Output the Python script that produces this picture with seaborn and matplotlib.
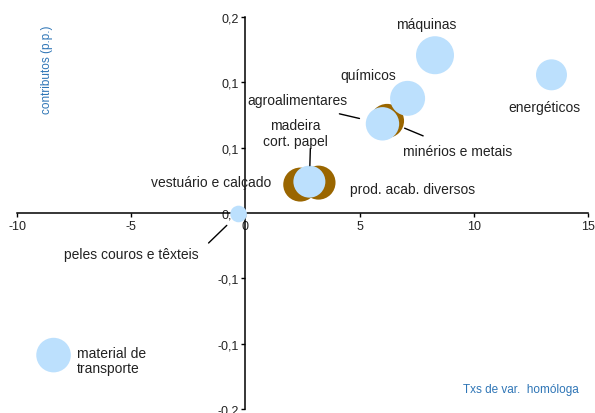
import numpy as np
import pandas as pd
import seaborn as sns
import matplotlib.pyplot as plt

# bubbles drawn in light blue
cats_azul = ['máquinas', 'energéticos', 'químicos', 'agroalimentares',
             'madeira\ncort. papel', 'peles couros e têxteis', 'material de\ntransporte']
x_azul = [8.3, 13.4, 7.1, 6.0, 2.8, -0.3, -8.4]
y_azul = [0.161, 0.141, 0.117, 0.091, 0.032, -0.001, -0.145]
peso_azul = [361, 240, 306, 279, 256, 69, 299]

# bubbles drawn in brown
cats_castanho = ['minérios e metais', 'vestuário e calçado', 'prod. acab. diversos']
x_castanho = [6.2, 2.4, 3.2]
y_castanho = [0.094, 0.029, 0.031]
peso_castanho = [289, 289, 289]

y_ticks = np.linspace(-0.2, 0.2, 7)
x_ticks = [-10, -5, 0, 5, 10, 15]

# label offsets (points) relative to the bubble, and alignment
label_pos = {
    'máquinas': (-6.5, 22.3, 'center'),
    'energéticos': (-5, -23, 'center'),
    'químicos': (-28, 16.6, 'center'),
    'agroalimentares': (-61, 17.3, 'center'),
    'madeira\ncort. papel': (-10, 35, 'center'),
    'peles couros e têxteis': (-77, -29, 'center'),
    'material de\ntransporte': (17, -3.6, 'left'),
    'minérios e metais': (51, -21.6, 'center'),
    'vestuário e calçado': (-64, 2, 'center'),
    'prod. acab. diversos': (68, -4.3, 'center'),
}
# leader lines: start offset (points) and gap left near the bubble
leaders = {
    'madeira\ncort. papel': (0.7, 23.8, 11.5),
    'agroalimentares': (-31, 7.2, 17),
    'minérios e metais': (26, -10.8, 13.7),
    'peles couros e têxteis': (-21.6, -20.9, 11.8),
}

df = pd.DataFrame({
    'cat': cats_castanho + cats_azul,
    'x': x_castanho + x_azul,
    'y': y_castanho + y_azul,
    'peso': peso_castanho + peso_azul,
    'grupo': ['c'] * len(cats_castanho) + ['a'] * len(cats_azul),
})

sns.set_style('white')
plt.rcParams['font.family'] = ['Liberation Sans', 'DejaVu Sans']

fig = plt.figure(figsize=(5.95, 4.14), dpi=100)
ax = fig.add_axes([0.0286, 0.0097, 0.9597, 0.9468])

k = 2.0736
sns.scatterplot(data=df, x='x', y='y', hue='grupo', size='peso',
                palette={'a': '#BCE0FD', 'c': '#9A6600'},
                sizes=(k * df['peso'].min(), k * df['peso'].max()),
                linewidth=0, alpha=1, legend=False, ax=ax, zorder=3, clip_on=False)

ax.set_xlim(-10, 15)
ax.set_ylim(-0.2, 0.2)
ax.set_xlabel('')
ax.set_ylabel('')

for s in ['top', 'right']:
    ax.spines[s].set_visible(False)
ax.spines['left'].set_position(('data', 0))
ax.spines['bottom'].set_position(('data', 0))
for s in ['left', 'bottom']:
    ax.spines[s].set_color('black')
    ax.spines[s].set_linewidth(1.1)
    ax.spines[s].set_zorder(2)

ax.set_xticks(x_ticks)
ax.set_xticklabels([str(t) for t in x_ticks])
ax.set_yticks(y_ticks)
ax.set_yticklabels([f'{round(t, 1):.1f}'.replace('.', ',').replace('-0,0', '0,0') for t in y_ticks])
ax.tick_params(axis='both', direction='out', length=3, width=1, color='black',
               labelsize=9, labelcolor='#222222', pad=2, left=True, bottom=True)

for _, r in df.iterrows():
    dx, dy, ha = label_pos[r['cat']]
    ax.annotate(r['cat'], xy=(r['x'], r['y']), xytext=(dx, dy), textcoords='offset points',
                ha=ha, va='center', fontsize=10, color='#222222', zorder=5,
                linespacing=1.1)
    if r['cat'] in leaders:
        sx, sy, gap = leaders[r['cat']]
        ax.annotate('', xy=(r['x'], r['y']), xytext=(sx, sy), textcoords='offset points',
                    arrowprops=dict(arrowstyle='-', color='black', lw=1,
                                    shrinkA=0, shrinkB=gap), zorder=5)

fig.text(0.079, 0.831, 'contributos (p.p.)', rotation=90, ha='center', va='center',
         fontsize=8.5, color='#2E75B6')
fig.text(0.973, 0.058, 'Txs de var.  homóloga', ha='right', va='center',
         fontsize=8.5, color='#2E75B6')

fig.savefig('out.png', dpi=100)
